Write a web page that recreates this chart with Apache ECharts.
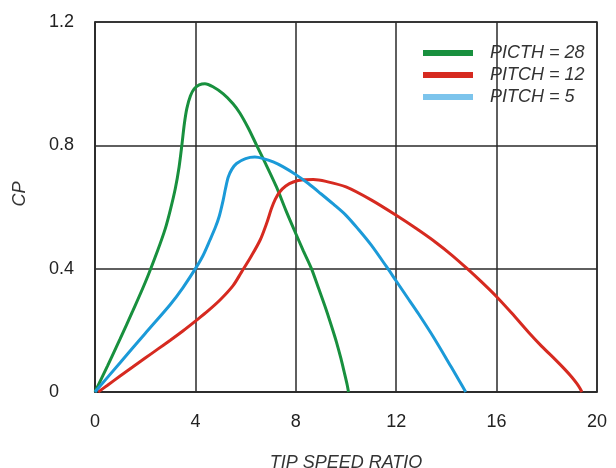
<!DOCTYPE html>
<html><head><meta charset="utf-8">
<script src="https://cdn.jsdelivr.net/npm/echarts@6/dist/echarts.min.js"></script>
<style>html,body{margin:0;padding:0;background:#fff}#c{width:616px;height:468px}</style>
</head><body><div id="c"></div>
<script>
const seriesNames = ['PICTH = 28', 'PITCH = 12', 'PITCH = 5'];
const greenX = [0, 0.5, 1, 1.5, 2, 2.5, 2.8, 3.0, 3.2, 3.35, 3.46, 3.56, 3.66, 3.8, 3.95, 4.15, 4.38, 4.7, 5.11, 5.5, 5.77, 6.1, 6.44, 6.8, 7.23, 7.6, 8.02, 8.3, 8.62, 8.9, 9.21, 9.45, 9.62, 9.8, 9.93, 10.05, 10.1];
const greenY = [0, 0.085, 0.172, 0.262, 0.355, 0.46, 0.53, 0.59, 0.66, 0.73, 0.8, 0.87, 0.92, 0.96, 0.983, 0.996, 1.0, 0.99, 0.967, 0.935, 0.905, 0.857, 0.8, 0.74, 0.665, 0.59, 0.51, 0.458, 0.401, 0.338, 0.267, 0.207, 0.162, 0.108, 0.064, 0.022, 0];
const redX = [0.13, 0.5, 1, 1.5, 2, 2.5, 3, 3.5, 4, 4.5, 5, 5.5, 5.83, 6.2, 6.58, 6.85, 7.03, 7.18, 7.35, 7.6, 7.9, 8.3, 8.7, 9.2, 10, 11, 12, 12.8, 13.58, 14.2, 14.83, 15.4, 16, 16.6, 17.28, 17.8, 18.34, 18.7, 19.0, 19.2, 19.32, 19.4];
const redY = [0, 0.022, 0.052, 0.081, 0.11, 0.139, 0.168, 0.198, 0.23, 0.263, 0.3, 0.345, 0.388, 0.437, 0.493, 0.55, 0.595, 0.625, 0.648, 0.668, 0.681, 0.688, 0.689, 0.683, 0.665, 0.623, 0.573, 0.53, 0.485, 0.445, 0.4, 0.357, 0.309, 0.256, 0.193, 0.148, 0.105, 0.075, 0.048, 0.027, 0.012, 0];
const blueX = [0, 1, 2, 3, 3.5, 4, 4.3, 4.58, 4.8, 4.95, 5.1, 5.2, 5.31, 5.45, 5.64, 6.0, 6.37, 6.7, 7.1, 7.5, 8, 8.5, 9, 9.5, 10, 10.5, 11, 11.6, 12, 12.5, 12.9, 13.5, 14.2, 14.5, 14.77];
const blueY = [0, 0.095, 0.19, 0.284, 0.338, 0.4, 0.442, 0.493, 0.535, 0.57, 0.62, 0.66, 0.697, 0.722, 0.741, 0.757, 0.762, 0.757, 0.746, 0.73, 0.705, 0.676, 0.643, 0.609, 0.573, 0.527, 0.477, 0.408, 0.36, 0.3, 0.252, 0.176, 0.08, 0.038, 0];
const xTicks = [0, 4, 8, 12, 16, 20];
const yTicks = [0, 0.4, 0.8, 1.2];

const zip = (xs, ys) => xs.map((x, i) => [x, ys[i]]);
const font = 'Liberation Sans, Arial, sans-serif';
const colors = ['#18903e', '#d62a20', '#1b9ad8'];
const legendColors = ['#18903e', '#d62a20', '#7cc4ec'];
const gridColor = '#2a2a2a';

const chart = echarts.init(document.getElementById('c'), null, {renderer: 'canvas'});
chart.setOption({
  animation: false,
  grid: {left: 95, right: 19, top: 22, bottom: 76, show: true, borderColor: gridColor, borderWidth: 1.5, outerBoundsMode: 'none', containLabel: false},
  legend: {
    orient: 'vertical', left: 418, top: 39, itemWidth: 50, itemHeight: 6, itemGap: 4,
    icon: 'rect',
    data: seriesNames.map((n, i) => ({name: n, itemStyle: {color: legendColors[i]}})),
    textStyle: {fontFamily: font, fontSize: 18, fontStyle: 'italic', color: '#333', lineHeight: 18, padding: [0, 0, 0, 12]}
  },
  xAxis: {
    type: 'value', min: 0, max: 20, interval: 4,
    name: 'TIP SPEED RATIO', nameLocation: 'middle', nameGap: 62,
    nameTextStyle: {fontFamily: font, fontSize: 18, fontStyle: 'italic', color: '#333'},
    axisLine: {show: true, lineStyle: {color: gridColor, width: 1.5}},
    axisTick: {show: false},
    axisLabel: {fontFamily: font, fontSize: 18, color: '#222', margin: 21,
      formatter: v => xTicks.includes(v) ? String(v) : ''},
    splitLine: {show: true, lineStyle: {color: gridColor, width: 1.5}}
  },
  yAxis: {
    type: 'value', min: 0, max: 1.2, interval: 0.4,
    name: 'CP', nameLocation: 'middle', nameGap: 66, nameRotate: 90,
    nameTextStyle: {fontFamily: font, fontSize: 18, fontStyle: 'italic', color: '#333', padding: [0, 0, 0, 26]},
    axisLine: {show: true, lineStyle: {color: gridColor, width: 1.5}},
    axisTick: {show: false},
    axisLabel: {fontFamily: font, fontSize: 18, color: '#222', margin: 46, align: 'left',
      formatter: v => { const t = yTicks.find(k => Math.abs(k - v) < 1e-9); return t === undefined ? '' : (t === 0 ? '0' : t.toFixed(1)); }},
    splitLine: {show: true, lineStyle: {color: gridColor, width: 1.5}}
  },
  series: [
    {name: seriesNames[0], type: 'line', data: zip(greenX, greenY), smooth: 0.3, showSymbol: false, lineStyle: {color: colors[0], width: 3}, itemStyle: {color: colors[0]}},
    {name: seriesNames[1], type: 'line', data: zip(redX, redY), smooth: 0.3, showSymbol: false, lineStyle: {color: colors[1], width: 3}, itemStyle: {color: colors[1]}},
    {name: seriesNames[2], type: 'line', data: zip(blueX, blueY), smooth: 0.3, showSymbol: false, lineStyle: {color: colors[2], width: 3}, itemStyle: {color: colors[2]}}
  ]
});
</script></body></html>
